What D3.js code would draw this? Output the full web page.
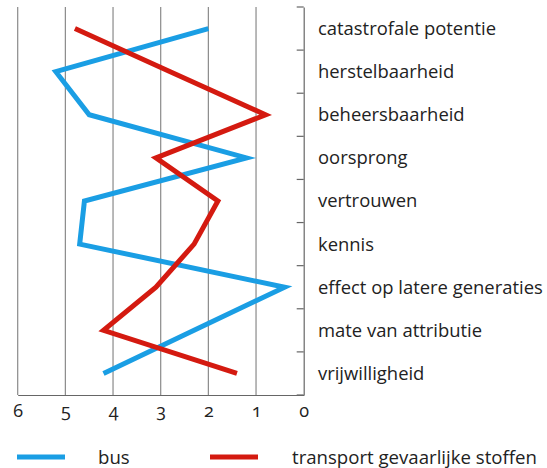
<!DOCTYPE html>
<html><head><meta charset="utf-8">
<script src="https://cdn.jsdelivr.net/npm/d3@7"></script>
<style>body{margin:0;background:#fff}svg{display:block}text{font-family:"Open Sans",sans-serif;fill:#222}</style>
</head><body><svg id="c" width="547" height="468"></svg>
<script>
const categories = ["catastrofale potentie","herstelbaarheid","beheersbaarheid","oorsprong","vertrouwen","kennis","effect op latere generaties","mate van attributie","vrijwilligheid"];
const busValues = [2.0, 5.2, 4.5, 1.2, 4.6, 4.7, 0.4, 2.3, 4.2];
const tgsValues = [4.8, 2.8, 0.8, 3.1, 1.8, 2.3, 3.1, 4.2, 1.4];
const xTicks = [6,5,4,3,2,1,0];
const seriesNames = ["bus","transport gevaarlijke stoffen"];
const colors = ["#1a9ee4","#d41a10"];

const svg = d3.select("#c");
const x = d3.scaleLinear().domain([6,0]).range([17.7,303.7]);
const yBand = d3.scaleBand().domain(categories).range([7,395]);
const y = c => yBand(c) + yBand.bandwidth()/2;

// gridlines
svg.append("g").selectAll("line").data(xTicks.filter(t=>t!==0)).join("line")
  .attr("x1",d=>x(d)).attr("x2",d=>x(d)).attr("y1",7).attr("y2",395)
  .attr("stroke","#8a8a8a").attr("stroke-width",1.2);

// bottom axis
const xa = svg.append("g").attr("transform","translate(0,395)")
  .call(d3.axisBottom(x).tickValues(xTicks).tickSize(0).tickPadding(9).tickFormat(d3.format("d")));
xa.select(".domain").attr("stroke","#666").attr("stroke-width",1.2);
xa.selectAll("text").attr("font-size",18).attr("font-family","Open Sans").attr("fill","#222")
  .style("font-variant-numeric","oldstyle-nums");

// right axis
const ya = svg.append("g").attr("transform","translate(303.7,0)")
  .call(d3.axisLeft(yBand).tickSize(0).tickFormat(""));
ya.select(".domain").attr("stroke","#666").attr("stroke-width",1.2);
const bounds = categories.map(c=>yBand(c)).concat([395]);
ya.selectAll("line.tk").data(bounds).join("line").attr("class","tk")
  .attr("x1",-7).attr("x2",0).attr("y1",d=>d).attr("y2",d=>d)
  .attr("stroke","#666").attr("stroke-width",1.2);

const labels = svg.append("g").selectAll("text").data(categories).join("text")
  .attr("x",318).attr("y",d=>y(d)).attr("dy","0.35em")
  .attr("font-size",16.5).text(d=>d);
// fit font size so the longest label spans the same width as the reference
const longest = labels.filter(d=>d==="effect op latere generaties").node();
const fs = 16.5 * 225 / longest.getComputedTextLength();
labels.attr("font-size",fs);

// lines
const line = d3.line().x(d=>x(d.v)).y(d=>y(d.c));
[busValues, tgsValues].forEach((vals,i)=>{
  svg.append("path").datum(vals.map((v,j)=>({v,c:categories[j]})))
    .attr("d",line).attr("fill","none").attr("stroke",colors[i])
    .attr("stroke-width",5).attr("stroke-linejoin","miter");
});

// legend
const leg = [{x:17,tx:98},{x:210,tx:292}];
const legTexts = [];
seriesNames.forEach((n,i)=>{
  svg.append("line").attr("x1",leg[i].x).attr("x2",leg[i].x+48).attr("y1",457).attr("y2",457)
    .attr("stroke",colors[i]).attr("stroke-width",5);
  legTexts.push(svg.append("text").attr("x",leg[i].tx).attr("y",457).attr("dy","0.35em").attr("font-size",16.5).text(n));
});
const lfs = 16.5 * 245 / legTexts[1].node().getComputedTextLength();
legTexts.forEach(t=>t.attr("font-size",lfs));
</script></body></html>
